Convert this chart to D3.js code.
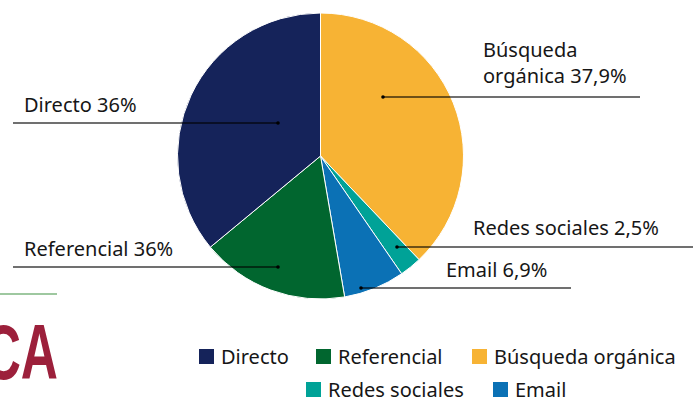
<!DOCTYPE html>
<html>
<head>
<meta charset="utf-8">
<script src="https://cdn.jsdelivr.net/npm/d3@7"></script>
<style>
  body { margin: 0; background: #fff; }
  svg { display: block; font-family: "Noto Sans", "Open Sans", sans-serif; }
</style>
</head>
<body>
<div id="chart"></div>
<script>
// data
const categories = ["Búsqueda orgánica", "Redes sociales", "Email", "Referencial", "Directo"]
const values = [37.9, 2.5, 6.9, 16.7, 36]
const sliceLabels = [["Búsqueda", "orgánica 37,9%"], ["Redes sociales 2,5%"], ["Email 6,9%"], ["Referencial 36%"], ["Directo 36%"]]
const legendOrder = ["Directo", "Referencial", "Búsqueda orgánica", "Redes sociales", "Email"]

const width = 693
const height = 405
const cx = 320.5, cy = 156, radius = 143

const colorScale = d3.scaleOrdinal()
    .domain(categories)
    .range(["#f7b334", "#00a297", "#0b71b5", "#01662f", "#15235a"])

// leader line placement for each label (same order as categories)
const labelLayout = [
    {x1: 383, x2: 640, y: 97, dot: 383, tx: 483, ty: [57, 83]},
    {x1: 397, x2: 693, y: 247, dot: 397, tx: 473, ty: [235]},
    {x1: 361, x2: 571, y: 288, dot: 361, tx: 446, ty: [277]},
    {x1: 13, x2: 278, y: 267, dot: 278, tx: 24, ty: [256]},
    {x1: 13, x2: 278, y: 123, dot: 278, tx: 24, ty: [112]}
]

const svg = d3.select("#chart")
    .append("svg")
    .attr("width", width)
    .attr("height", height)

const pie = d3.pie().sort(null).value(d => d.value)
const arc = d3.arc().innerRadius(0).outerRadius(radius)

const data = categories.map((c, i) => ({key: c, value: values[i]}))

const g = svg.append("g")
    .attr("transform", `translate(${cx}, ${cy})`)

g.selectAll(".slice")
    .data(pie(data))
    .enter()
    .append("path")
    .attr("class", "slice")
    .attr("d", arc)
    .attr("fill", d => colorScale(d.data.key))
    .attr("stroke", "#fff")
    .attr("stroke-width", 1)

// leader lines + labels
const labels = svg.selectAll(".label")
    .data(labelLayout)
    .enter()
    .append("g")
    .attr("class", "label")

labels.append("line")
    .attr("x1", d => d.x1)
    .attr("x2", d => d.x2)
    .attr("y1", d => d.y)
    .attr("y2", d => d.y)
    .attr("stroke", "#000")
    .attr("stroke-opacity", 0.75)
    .attr("stroke-width", 1.3)

labels.append("circle")
    .attr("cx", d => d.dot)
    .attr("cy", d => d.y)
    .attr("r", 1.8)
    .attr("fill", "#000")

labels.each(function(d, i) {
    const sel = d3.select(this)
    sliceLabels[i].forEach((t, j) => {
        sel.append("text")
            .attr("x", d.tx)
            .attr("y", d.ty[j])
            .attr("font-size", 20)
            .attr("fill", "#161616")
            .text(t)
    })
})

// page fragment in the lower left
svg.append("line")
    .attr("x1", 0).attr("x2", 57)
    .attr("y1", 294).attr("y2", 294)
    .attr("stroke", "#3f9142")
    .attr("stroke-width", 1.2)

svg.append("text")
    .attr("transform", "translate(58, 379) scale(0.66, 1)")
    .attr("text-anchor", "end")
    .attr("font-family", "'Liberation Sans', Arial, sans-serif")
    .attr("font-weight", "bold")
    .attr("font-size", 78)
    .attr("fill", "#9c203b")
    .text("CA")

// legend
const legendPos = [
    {x: 199, y: 349}, {x: 316, y: 349}, {x: 472, y: 349},
    {x: 306, y: 382}, {x: 493, y: 382}
]

const legend = svg.selectAll(".legend")
    .data(legendOrder)
    .enter()
    .append("g")
    .attr("class", "legend")
    .attr("transform", (d, i) => `translate(${legendPos[i].x}, ${legendPos[i].y})`)

legend.append("rect")
    .attr("width", 15)
    .attr("height", 15)
    .attr("fill", d => colorScale(d))

legend.append("text")
    .attr("x", 22)
    .attr("y", 15)
    .attr("font-size", 20)
    .attr("fill", "#161616")
    .text(d => d)
</script>
</body>
</html>
